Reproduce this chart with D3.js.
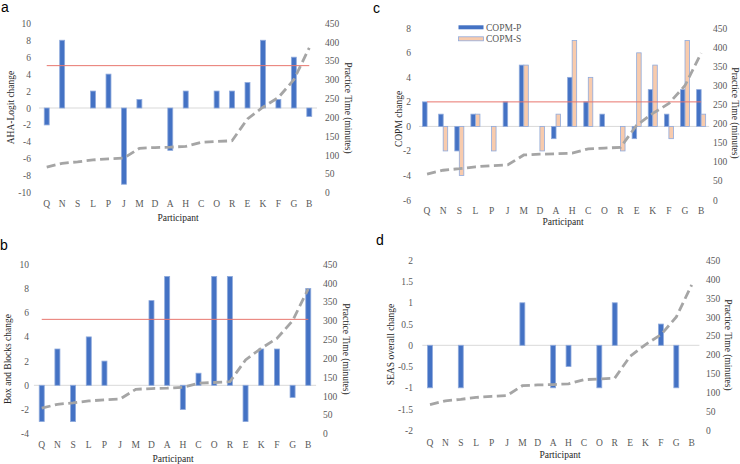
<!DOCTYPE html>
<html><head><meta charset="utf-8">
<script src="https://cdn.jsdelivr.net/npm/d3@7"></script>
<style>body{margin:0;background:#fff} svg text.serif{font-family:"Liberation Serif","Times New Roman",Times,serif}</style>
</head><body>
<svg id="chart" width="740" height="464" xmlns="http://www.w3.org/2000/svg"></svg>
<script>
// ---------- data ----------
const participants = ["Q","N","S","L","P","J","M","D","A","H","C","O","R","E","K","F","G","B"];
const practiceTime = [68,78,82,87,90,92,118,120,121,123,134,136,138,196,227,253,300,385];
const ahaChange = [-2,8,0,2,4,-9,1,0,-5,2,0,2,2,3,8,1,6,-1];
const boxBlocksChange = [-3,3,-3,4,2,0,0,7,9,-2,1,9,9,-3,3,3,-1,8];
const copmP = [2,1,-2,1,0,2,5,0,-1,4,2,1,0,-1,3,1,3,3];
const copmS = [0,-2,-4,1,-2,0,5,-2,1,7,4,0,-2,6,5,-1,7,1];
const seasChange = [-1,0,-1,0,0,0,1,0,-1,-0.5,0,-1,1,0,0,0.5,-1,0];
const ahaTicks = [10,8,6,4,2,0,-2,-4,-6,-8,-10];
const boxBlocksTicks = [10,8,6,4,2,0,-2,-4];
const copmTicks = [8,6,4,2,0,-2,-4,-6];
const seasTicks = [2,1.5,1,0.5,0,-0.5,-1,-1.5,-2];
const timeTicks = [0,50,100,150,200,250,300,350,400,450];
const seriesNames = ["COPM-P","COPM-S"];
const ahaThreshold = 5;
const boxBlocksThreshold = 5.45;
const copmThreshold = 2;

// ---------- styles ----------
const BLUE = "#4472C4", BLUE_EDGE = "#8FAADC", PEACH = "#F8CBAD";
const SANS = "Liberation Sans, Arial, sans-serif";
const svg = d3.select("#chart");

function serifText(sel, size, fill) {
  sel.attr("class", "serif").attr("font-family", null)
    .style("font-family", '"Liberation Serif", "Times New Roman", serif')
    .style("font-size", size + "px").attr("fill", fill);
}

function panel(o) {
  const g = svg.append("g");
  const x = d3.scaleBand().domain(participants).range(o.xRange).padding(0);
  const cx = d => x(d) + x.bandwidth() / 2;
  const y = d3.scaleLinear().domain([o.ticks[o.ticks.length-1], o.ticks[0]]).range([o.yBottom, o.yTop]);
  const yr = d3.scaleLinear().domain([0, 450]).range([o.yBottom, o.yTop]);

  g.append("line").attr("x1", o.xRange[0]).attr("x2", o.xRange[1])
    .attr("y1", y(0)).attr("y2", y(0)).attr("stroke", "#D9D9D9").attr("stroke-width", 1);

  const la = g.append("g").attr("transform", `translate(${o.leftLabelX},0)`)
    .call(d3.axisLeft(y).tickValues(o.ticks).tickSize(0).tickPadding(0).tickFormat(d => String(d)));
  la.attr("font-family", null).attr("font-size", null);
  la.select(".domain").remove();
  serifText(la.selectAll("text"), 9.5, "#595959");

  const ra = g.append("g").attr("transform", `translate(${o.rightLabelX},0)`)
    .call(d3.axisRight(yr).tickValues(timeTicks).tickSize(0).tickPadding(0).tickFormat(d => String(d)));
  ra.attr("font-family", null).attr("font-size", null);
  ra.select(".domain").remove();
  serifText(ra.selectAll("text"), 9.5, "#595959");

  const xa = g.append("g").attr("transform", `translate(0,${o.xLabelY})`)
    .call(d3.axisBottom(x).tickSize(0).tickPadding(0));
  xa.attr("font-family", null).attr("font-size", null);
  xa.select(".domain").remove();
  serifText(xa.selectAll("text"), 9.5, "#595959");
  xa.selectAll("text").attr("dy", "0.35em");

  const n = o.series.length;
  const bw = n === 1 ? x.bandwidth() * 0.32 : x.bandwidth() * 0.28;
  o.series.forEach((s, si) => {
    const off = n === 1 ? -bw / 2 : (si === 0 ? -bw : 0);
    g.append("g").selectAll("rect").data(participants.map((p, i) => ({p, v: s.values[i]})))
      .join("rect")
      .attr("x", d => cx(d.p) + off)
      .attr("width", bw)
      .attr("y", d => y(Math.max(0, d.v)))
      .attr("height", d => Math.abs(y(d.v) - y(0)))
      .attr("fill", s.fill).attr("stroke", BLUE_EDGE).attr("stroke-width", 0.8);
  });

  if (o.threshold !== undefined) {
    g.append("line").attr("x1", cx(participants[0])).attr("x2", cx(participants[participants.length-1]))
      .attr("y1", y(o.threshold)).attr("y2", y(o.threshold))
      .attr("stroke", "#E8766E").attr("stroke-width", 1);
  }

  g.append("path").datum(practiceTime)
    .attr("d", d3.line().x((d, i) => cx(participants[i])).y(d => yr(d)))
    .attr("fill", "none").attr("stroke", "#A5A5A5").attr("stroke-width", 2.8)
    .attr("stroke-dasharray", "9,4.5");

  const t1 = g.append("text").attr("transform", `translate(${o.leftTitle[0]},${o.leftTitle[1]}) rotate(-90)`)
    .attr("text-anchor", "middle").attr("dy", "0.35em").text(o.yTitle);
  serifText(t1, 9.5, "#262626");
  const t2 = g.append("text").attr("transform", `translate(${o.rightTitle[0]},${o.rightTitle[1]}) rotate(90)`)
    .attr("text-anchor", "middle").attr("dy", "0.35em").text("Practice Time (minutes)");
  serifText(t2, 9.5, "#262626");
  const t3 = g.append("text").attr("x", o.xTitle[0]).attr("y", o.xTitle[1]).attr("text-anchor", "middle").attr("dy", "0.35em")
    .text("Participant");
  serifText(t3, 9.5, "#262626");
  g.append("text").attr("x", o.letter[1]).attr("y", o.letter[2])
    .style("font-family", SANS).style("font-size", "14px").attr("fill", "#000").text(o.letter[0]);
}

panel({
  letter: ["a", 1, 12], xRange: [39, 317], yTop: 23.3, yBottom: 192.7, ticks: ahaTicks,
  leftLabelX: 31, rightLabelX: 325, xLabelY: 204,
  leftTitle: [11, 107.5], rightTitle: [348, 108], xTitle: [178, 218],
  yTitle: "AHA-Logit change", threshold: ahaThreshold,
  series: [{values: ahaChange, fill: BLUE}]
});

panel({
  letter: ["b", 0, 250], xRange: [33.9, 316.1], yTop: 264.3, yBottom: 433.7, ticks: boxBlocksTicks,
  leftLabelX: 29, rightLabelX: 323, xLabelY: 444.3,
  leftTitle: [7.5, 359], rightTitle: [346.5, 349], xTitle: [173, 458.7],
  yTitle: "Box and Blocks change", threshold: boxBlocksThreshold,
  series: [{values: boxBlocksChange, fill: BLUE}]
});

panel({
  letter: ["c", 373, 13], xRange: [419, 709.2], yTop: 28.3, yBottom: 200, ticks: copmTicks,
  leftLabelX: 411, rightLabelX: 713, xLabelY: 210.7,
  leftTitle: [398.5, 119], rightTitle: [735.5, 113], xTitle: [563, 221.7],
  yTitle: "COPM change", threshold: copmThreshold,
  series: [{values: copmP, fill: BLUE}, {values: copmS, fill: PEACH}]
});

const leg = svg.append("g");
seriesNames.forEach((name, i) => {
  const yy = 27.3 + i * 11.5;
  leg.append("rect").attr("x", 458.5).attr("y", yy - 2).attr("width", 25).attr("height", 4)
    .attr("fill", i === 0 ? BLUE : PEACH).attr("stroke", i === 0 ? "none" : BLUE_EDGE).attr("stroke-width", 0.8);
  const t = leg.append("text").attr("x", 486).attr("y", yy).attr("dy", "0.35em").text(name);
  serifText(t, 9.5, "#595959");
});

panel({
  letter: ["d", 376, 245], xRange: [422.3, 699.4], yTop: 260.3, yBottom: 430.3, ticks: seasTicks,
  leftLabelX: 413, rightLabelX: 706, xLabelY: 442.7,
  leftTitle: [391, 344.5], rightTitle: [728.5, 345], xTitle: [560, 454.7],
  yTitle: "SEAS overall change",
  series: [{values: seasChange, fill: BLUE}]
});
</script>
</body></html>
